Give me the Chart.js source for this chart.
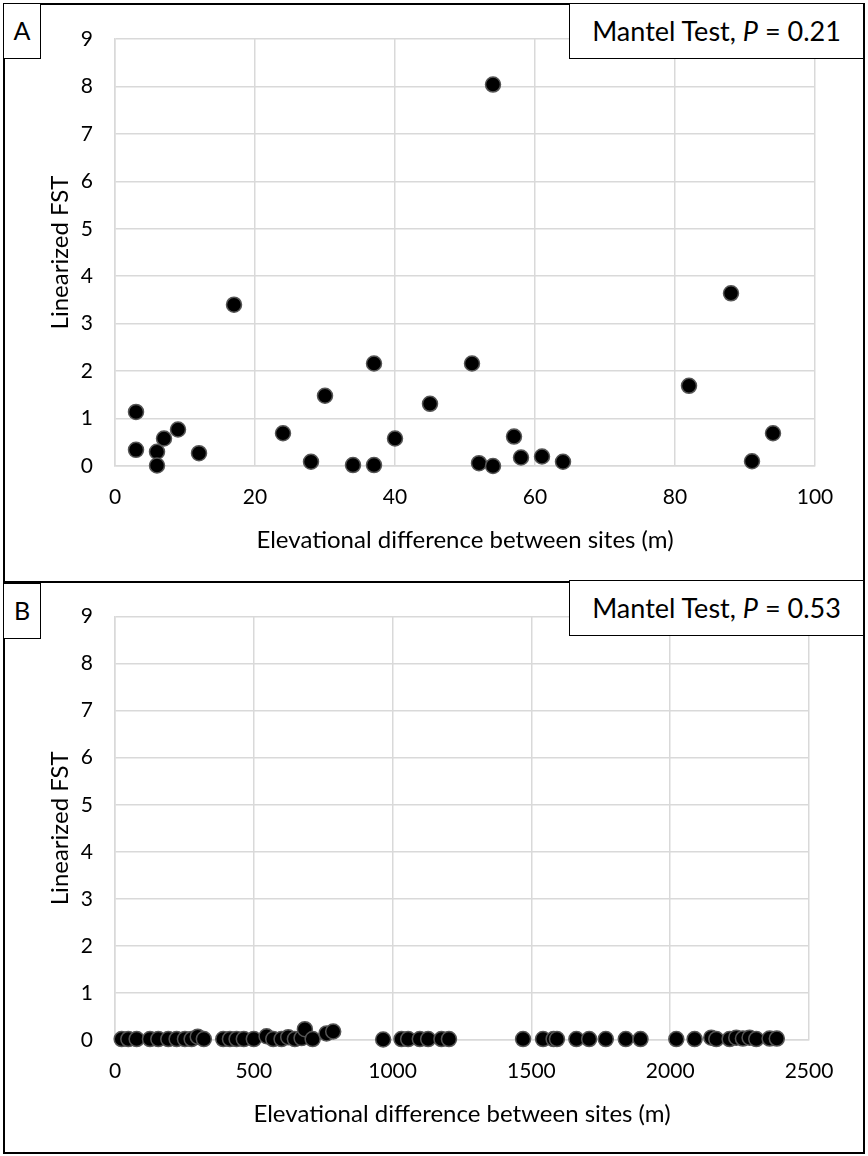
<!DOCTYPE html>
<html>
<head>
<meta charset="utf-8">
<script src="https://cdn.jsdelivr.net/npm/chart.js@4.4.0/dist/chart.umd.min.js"></script>
<style>
body { margin: 0; background: #fff; font-family: Lato, "Liberation Sans", sans-serif; }
#page { position: relative; width: 868px; height: 1156px; }
canvas { position: absolute; left: 0; }
.frame { position: absolute; left: 3px; width: 862px; border: 2px solid #000; box-sizing: border-box; }
.tag { position: absolute; left: 3px; width: 38px; height: 56px; border: 1.5px solid #000; box-sizing: border-box;
       background: #fff; font-size: 25px; line-height: 53px; text-align: center; }
.mantel { position: absolute; left: 569px; width: 295px; height: 56px; border: 1.5px solid #000; box-sizing: border-box;
          background: #fff; font-size: 27px; line-height: 53px; text-align: center; white-space: nowrap; }
</style>
</head>
<body>
<div id="page">
  <canvas id="chartA" width="868" height="582" style="top:0"></canvas>
  <canvas id="chartB" width="868" height="574" style="top:582px"></canvas>
  <div class="frame" style="top:3px; height:580px"></div>
  <div class="frame" style="top:581px; height:573px"></div>
  <div class="tag" style="top:3px">A</div>
  <div class="mantel" style="top:3px">Mantel Test, <i>P</i> = 0.21</div>
  <div class="tag" style="top:583px">B</div>
  <div class="mantel" style="top:580px">Mantel Test, <i>P</i> = 0.53</div>
</div>
<script>
// Panel A: elevational difference (m) vs linearized FST
var elevA = [3, 3, 6, 6, 7, 9, 12, 17, 24, 28, 30, 34, 37, 37, 40, 45, 51, 52, 54, 54, 57, 58, 61, 64, 82, 88, 91, 94];
var fstA  = [1.14, 0.34, 0.30, 0.01, 0.58, 0.77, 0.27, 3.40, 0.69, 0.09, 1.48, 0.02, 2.16, 0.02, 0.58, 1.31, 2.16, 0.06, 8.04, 0.0, 0.62, 0.18, 0.20, 0.09, 1.69, 3.64, 0.10, 0.69];

// Panel B
var elevB = [24, 48, 78, 126, 156, 192, 222, 252, 276, 298, 320, 390, 414, 438, 464, 500, 546, 570, 600, 624, 648, 672, 684, 712, 762, 786,
             966, 1032, 1056, 1098, 1128, 1176, 1203, 1470, 1542, 1580, 1592, 1662, 1708, 1768, 1840, 1893,
             2022, 2088, 2148, 2166, 2214, 2238, 2262, 2286, 2310, 2358, 2384];
var fstB  = [0.02, 0.02, 0.02, 0.02, 0.02, 0.02, 0.02, 0.02, 0.02, 0.07, 0.02, 0.02, 0.02, 0.02, 0.02, 0.02, 0.08, 0.02, 0.02, 0.06, 0.02, 0.04, 0.23, 0.02, 0.14, 0.18,
             0.01, 0.02, 0.02, 0.02, 0.02, 0.02, 0.02, 0.02, 0.02, 0.02, 0.02, 0.02, 0.02, 0.02, 0.02, 0.02,
             0.02, 0.02, 0.05, 0.02, 0.02, 0.05, 0.03, 0.05, 0.02, 0.03, 0.03];

var xTitle = "Elevational difference between sites (m)";
var yTitle = "Linearized FST";

function toPoints(xs, ys) {
    var pts = [];
    for (let i = 0; i < xs.length; i++) {
        pts.push({ x: xs[i], y: ys[i] });
    }
    return pts;
}

function makeChart(id, xs, ys, xMax, xStep, layout) {
    var tickFont = { family: "Lato, 'Liberation Sans', sans-serif", size: 21 };
    var titleFont = { family: "Lato, 'Liberation Sans', sans-serif", size: 24 };
    new Chart(id, {
        type: "scatter",
        data: {
            datasets: [{
                data: toPoints(xs, ys),
                backgroundColor: "#000",
                borderColor: "#555",
                borderWidth: 1.5,
                pointRadius: 7.5,
                clip: false
            }]
        },
        options: {
            responsive: false,
            animation: false,
            layout: { padding: { top: layout.top, right: layout.right, left: 0, bottom: 0 } },
            plugins: { legend: { display: false }, tooltip: { enabled: false } },
            scales: {
                x: {
                    type: "linear", min: 0, max: xMax,
                    ticks: { stepSize: xStep, color: "#000", font: tickFont, padding: layout.tickPad, maxRotation: 0,
                             callback: function (v) { return String(v); } },
                    grid: { color: "#d9d9d9", lineWidth: 1.5, drawTicks: false },
                    border: { color: "#d9d9d9", width: 1.5 },
                    title: { display: true, text: xTitle, color: "#000", font: titleFont, padding: { top: 0, bottom: layout.titleBottom } },
                    afterFit: function (scale) { scale.height = layout.xHeight; }
                },
                y: {
                    type: "linear", min: 0, max: 9,
                    ticks: { stepSize: 1, color: "#000", font: tickFont, padding: 22 },
                    grid: { color: "#d9d9d9", lineWidth: 1.5, drawTicks: false },
                    border: { color: "#d9d9d9", width: 1.5 },
                    title: { display: true, text: yTitle, color: "#000", font: titleFont, padding: { top: 46, bottom: 0 } },
                    afterFit: function (scale) { scale.width = 115; }
                }
            }
        }
    });
}

makeChart("chartA", elevA, fstA, 100, 20, { top: 39, right: 53, xHeight: 582 - 466, tickPad: 19, titleBottom: 27 });
makeChart("chartB", elevB, fstB, 2500, 500, { top: 34, right: 59, xHeight: 574 - 458, tickPad: 19, titleBottom: 27 });
</script>
</body>
</html>
